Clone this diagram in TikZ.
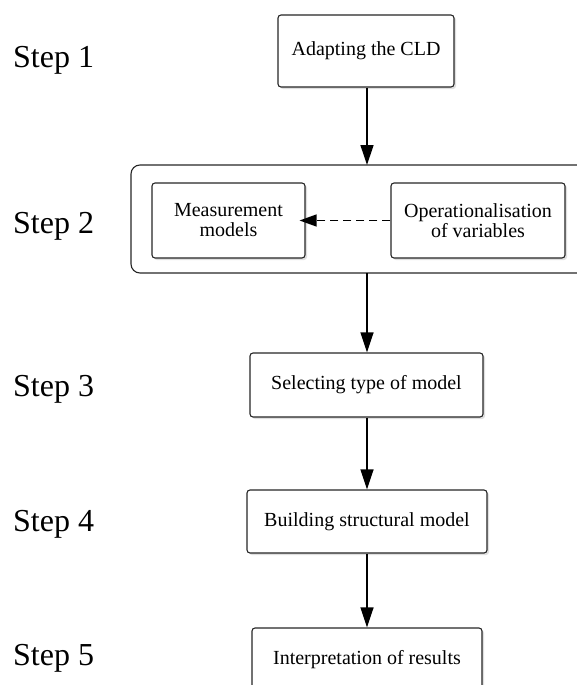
\documentclass[tikz,border=0pt]{standalone}
\usepackage{fontspec}
\setmainfont{Liberation Serif}
\usetikzlibrary{arrows.meta,shadows}

\begin{document}
\begin{tikzpicture}[x=1pt,y=-1pt,
  stepbox/.style={draw=black!85, line width=1.1pt, rounded corners=3pt, fill=white,
    align=center, inner sep=0pt, font=\fontsize{20}{20}\selectfont,
    drop shadow={shadow xshift=2pt, shadow yshift=-2pt, fill=black!25}},
  steplabel/.style={anchor=base west, inner sep=0pt, font=\fontsize{32}{32}\selectfont},
  flow/.style={line width=1.3pt, -{Triangle[length=20pt,width=13pt]}},
  dflow/.style={flow, -{Triangle[length=17pt,width=12pt]}, dash pattern=on 8pt off 5pt}
]
\useasboundingbox (0,0) rectangle (576,685);

% step labels
\node[steplabel] (s1) at (13,67)  {Step 1};
\node[steplabel] (s2) at (13,233) {Step 2};
\node[steplabel] (s3) at (13,396) {Step 3};
\node[steplabel] (s4) at (13,531) {Step 4};
\node[steplabel] (s5) at (13,665) {Step 5};

% step 1
\node[stepbox, minimum width=176pt, minimum height=72pt] (adapt) at (366,51) {Adapting the CLD};

% step 2 container with its two boxes
\draw[line width=1.1pt, draw=black!85, rounded corners=9pt] (131,165) -- (600,165) -- (600,273) -- (131,273) -- cycle;
\coordinate (ctop) at (367,165);
\coordinate (cbot) at (367,273);
\node[stepbox, minimum width=153pt, minimum height=75pt] (meas) at (228.5,220.5) {Measurement\\models};
\node[stepbox, minimum width=174pt, minimum height=75pt] (oper) at (478,220.5) {Operationalisation\\of variables};

% steps 3--5
\node[stepbox, minimum width=233pt, minimum height=64pt] (select) at (366.5,385) {Selecting type of model};
\node[stepbox, minimum width=240pt, minimum height=63pt] (build) at (367,521.5) {Building structural model};
\node[stepbox, minimum width=230pt, minimum height=64pt] (interp) at (367,660) {Interpretation of results};

% connectors
\draw[flow] (adapt.south -| ctop) -- (ctop);
\draw[dflow] (oper.west) -- ([xshift=-6pt]meas.east);
\draw[flow] (cbot) -- (select.north -| cbot);
\draw[flow] (select.south -| build.north) -- (build.north);
\draw[flow] (build.south) -- (interp.north);
\end{tikzpicture}
\end{document}
